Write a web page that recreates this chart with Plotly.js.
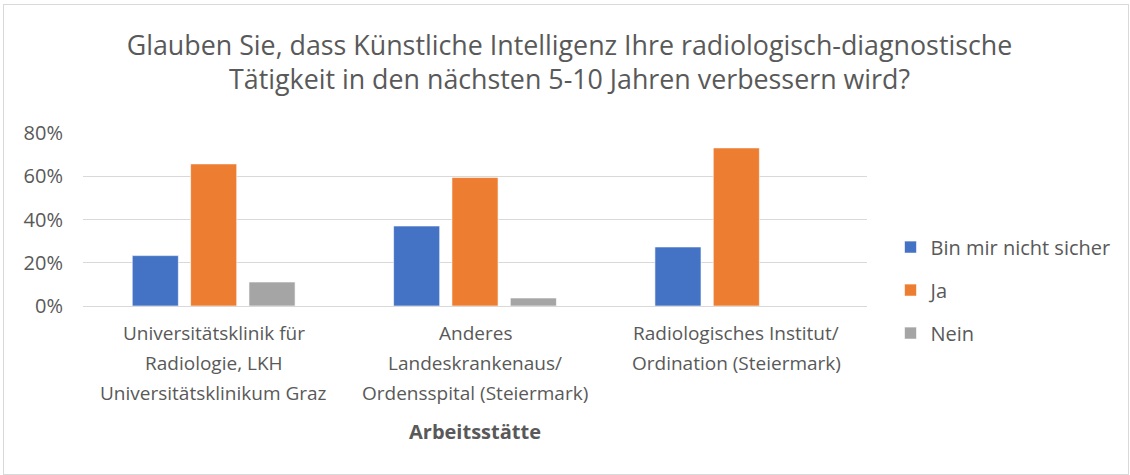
<!DOCTYPE html>
<html>
<head>
<meta charset="utf-8">
<script src="https://cdn.plot.ly/plotly-3.0.1.min.js"></script>
<style>
  body { margin: 0; background: #fff; }
  #frame { position: absolute; left: 3px; top: 4px; width: 1124px; height: 469px; border: 1px solid #d9d9d9; }
  #plot { position: absolute; left: -4px; top: -5px; width: 1130px; height: 475px; }
</style>
</head>
<body>
<div id="frame"><div id="plot"></div></div>
<script>
// Kategorien (Arbeitsstätte), eine Zeile pro Eintrag
const categories = ["Uniklinik", "Anderes", "Institut"];
const categoryLines = [
    ["Universitätsklinik für", "Radiologie, LKH", "Universitätsklinikum Graz"],
    ["Anderes", "Landeskrankenaus/", "Ordensspital (Steiermark)"],
    ["Radiologisches Institut/", "Ordination (Steiermark)"]
];
const nichtSicher = [0.233, 0.370, 0.273];
const ja = [0.657, 0.594, 0.731];
const nein = [0.111, 0.037, 0];

const grey = "#595959";
const font = "Open Sans, sans-serif";

function bar(name, y, color, group) {
    return {
        type: "bar",
        name: name,
        x: categories,
        y: y,
        legendgroup: group,
        marker: { color: color, line: { color: "rgba(255,255,255,0.6)", width: 1 } },
        hoverinfo: "y"
    };
}

const data = [
    bar("Bin mir nicht sicher", nichtSicher, "#4472C4", "a"),
    bar("Ja", ja, "#ED7D31", "b"),
    bar("Nein", nein, "#A5A5A5", "c")
];

// Kategorie-Beschriftungen als Annotationen (für den grossen Zeilenabstand)
const annotations = [];
categoryLines.forEach(function(lines, i) {
    lines.forEach(function(line, j) {
        annotations.push({
            x: categories[i], xref: "x",
            y: -0.155 - j * 0.173, yref: "paper",
            text: line, showarrow: false,
            font: { family: font, size: 19, color: grey },
            xanchor: "center", yanchor: "middle"
        });
    });
});
// Achsentitel
annotations.push({
    x: 0.5, xref: "paper",
    y: -0.728, yref: "paper",
    text: "<b>Arbeitsstätte</b>", showarrow: false,
    font: { family: font, size: 20, color: grey },
    xanchor: "center", yanchor: "middle"
});

const layout = {
    width: 1130,
    height: 475,
    margin: { l: 83, r: 263, t: 133, b: 169 },
    paper_bgcolor: "rgba(0,0,0,0)",
    plot_bgcolor: "rgba(0,0,0,0)",
    font: { family: font, color: grey },
    title: {
        text: "Glauben Sie, dass Künstliche Intelligenz Ihre radiologisch-diagnostische<br>Tätigkeit in den nächsten 5-10 Jahren verbessern wird?",
        font: { family: font, size: 26.8, color: grey },
        x: 0.504, xanchor: "center",
        y: 0.885, yanchor: "top"
    },
    barmode: "group",
    bargap: 0.33,
    bargroupgap: 0.21,
    xaxis: {
        showticklabels: false,
        showgrid: false,
        zeroline: false,
        ticks: ""
    },
    yaxis: {
        range: [0, 0.8],
        dtick: 0.2,
        tickformat: ".0%",
        gridcolor: "#d9d9d9",
        gridwidth: 1,
        zeroline: true,
        zerolinecolor: "#d9d9d9",
        zerolinewidth: 1,
        ticklabelstandoff: 19,
        tickfont: { family: font, size: 20, color: grey },
        fixedrange: true
    },
    legend: {
        x: 1.03, xanchor: "left",
        y: 0.092, yanchor: "middle",
        traceorder: "grouped",
        tracegroupgap: 14,
        font: { family: font, size: 20, color: grey }
    },
    annotations: annotations
};

Plotly.newPlot("plot", data, layout, { displayModeBar: false, staticPlot: true });
</script>
</body>
</html>
